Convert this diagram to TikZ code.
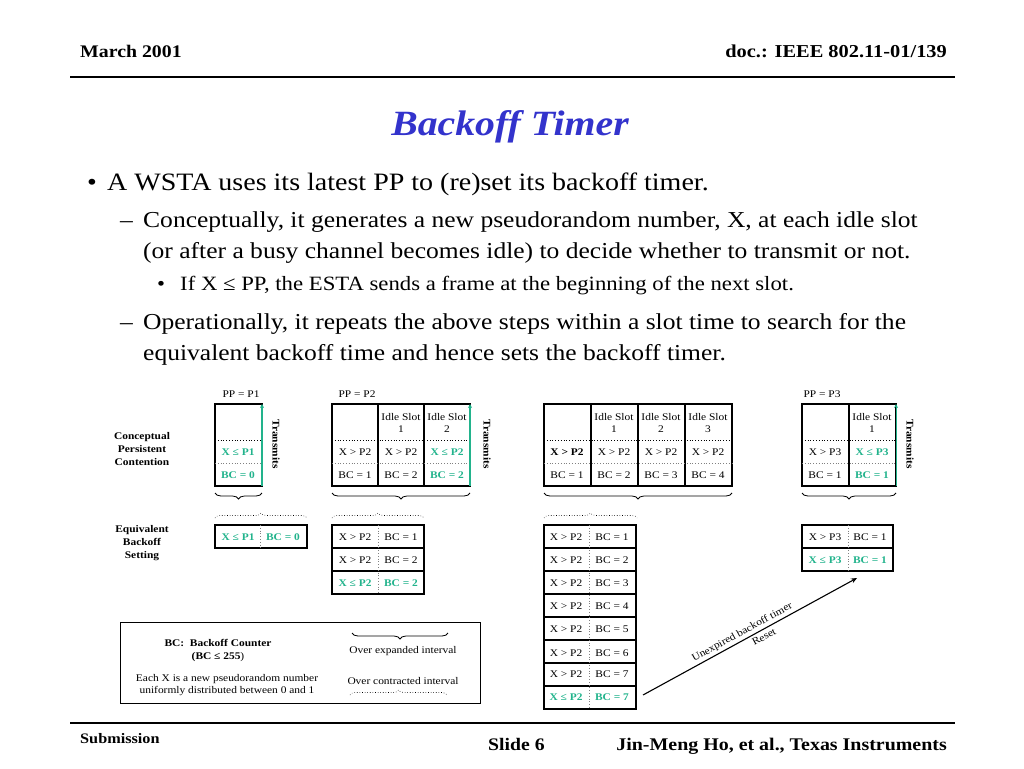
\documentclass[tikz,border=0pt]{standalone}
\usepackage{fontspec}
\setmainfont[FakeStretch=1.12]{Liberation Serif}
\usetikzlibrary{decorations.pathreplacing,arrows.meta}
\definecolor{ttl}{HTML}{3333CC}
\definecolor{mint}{HTML}{22B38C}
\newcommand{\dsz}{\fontsize{10.2}{12.6}\selectfont}
\tikzset{
  cell/.style={inner sep=0pt,font=\dsz},
  hit/.style={inner sep=0pt,text=mint,font=\dsz\bfseries},
  side/.style={inner sep=0pt,font=\dsz\bfseries,align=center},
  frame/.style={line width=1.5pt},
  colsep/.style={line width=1.1pt},
  dotsep/.style={line width=.8pt,dotted},
  upbrace/.style={decorate,decoration={brace,amplitude=5pt},line width=.6pt,dotted},
  downbrace/.style={decorate,decoration={brace,mirror,amplitude=6pt},line width=.8pt},
  goes/.style={mint,line width=1.3pt,-{Stealth[length=4pt,width=4pt]}},
  turned/.style={inner sep=0pt,font=\dsz\bfseries,rotate=-90}
}
\begin{document}
\begin{tikzpicture}[x=1pt,y=-1pt]
\useasboundingbox (0,0) rectangle (1024,768);
% header and footer
\node[anchor=base west,inner sep=0pt,font=\fontsize{17.7}{19}\selectfont\bfseries] (date) at (80,57) {March 2001};
\node[anchor=base east,inner sep=0pt,font=\fontsize{18.2}{19}\selectfont\bfseries] (doc) at (947,57) {doc.: IEEE 802.11-01/139};
\draw[line width=1.5pt] (70,77) -- (955,77);
\draw[line width=1.5pt] (70,723) -- (955,723);
\node[anchor=base west,inner sep=0pt,font=\fontsize{14.5}{15}\selectfont\bfseries] (subm) at (80,743) {Submission};
\node[anchor=base west,inner sep=0pt,font=\fontsize{17.6}{19}\selectfont\bfseries] (slide) at (488,750) {Slide 6};
\node[anchor=base east,inner sep=0pt,font=\fontsize{17.8}{19}\selectfont\bfseries] (auth) at (947,750) {Jin-Meng Ho, et al., Texas Instruments};
% title
\node[anchor=base,inner sep=0pt,text=ttl,font=\fontsize{35.5}{38}\selectfont\bfseries\itshape] (title) at (510,135) {Backoff Timer};
% bullets
\node[anchor=base west,inner sep=0pt,font=\fontsize{25}{28}\selectfont] (b1) at (87,190) {•};
\node[anchor=base west,inner sep=0pt,font=\fontsize{25}{28}\selectfont] (l1) at (107,190) {A WSTA uses its latest PP to (re)set its backoff timer.};
\node[anchor=base west,inner sep=0pt,font=\fontsize{22.8}{25}\selectfont] (b2) at (120,227) {–};
\node[anchor=base west,inner sep=0pt,font=\fontsize{22.8}{25}\selectfont] (l2) at (143,227) {Conceptually, it generates a new pseudorandom number, X, at each idle slot};
\node[anchor=base west,inner sep=0pt,font=\fontsize{22.8}{25}\selectfont] (l3) at (143,258) {(or after a busy channel becomes idle) to decide whether to transmit or not.};
\node[anchor=base west,inner sep=0pt,font=\fontsize{20.3}{22}\selectfont] (b3) at (157,290) {•};
\node[anchor=base west,inner sep=0pt,font=\fontsize{20.3}{22}\selectfont] (l4) at (180,290) {If X ≤ PP, the ESTA sends a frame at the beginning of the next slot.};
\node[anchor=base west,inner sep=0pt,font=\fontsize{22.8}{25}\selectfont] (b4) at (120,329) {–};
\node[anchor=base west,inner sep=0pt,font=\fontsize{22.8}{25}\selectfont] (l5) at (143,329) {Operationally, it repeats the above steps within a slot time to search for the};
\node[anchor=base west,inner sep=0pt,font=\fontsize{22.8}{25}\selectfont] (l6) at (143,360) {equivalent backoff time and hence sets the backoff timer.};
% row labels
\node[side] (cpc) at (142,449) {Conceptual\\Persistent\\Contention};
\node[side] (ebs) at (142,543) {Equivalent\\Backoff\\Setting};
% PP = P1
\node[cell] (pp1) at (241,394) {PP = P1};
\draw[frame] (215,404) rectangle (262,486);
\draw[dotsep] (215,440) -- (262,440);
\draw[dotsep,gray] (215,463) -- (262,463);
\node[hit] (t1x) at (238,452) {X ≤ P1};
\node[hit] (t1b) at (238,475) {BC = 0};
\draw[goes] (262,486) -- (262,404);
\node[turned] (tx1) at (276,444) {Transmits};
% PP = P2
\node[cell] (pp2) at (357,394) {PP = P2};
\draw[frame] (332,404) rectangle (470,486);
\draw[colsep] (378,404) -- (378,486);
\draw[colsep] (424,404) -- (424,486);
\draw[dotsep] (332,440) -- (470,440);
\draw[dotsep,gray] (332,463) -- (470,463);
\node[cell,align=center] (t2h1) at (401,423) {Idle Slot\\1};
\node[cell,align=center] (t2h2) at (447,423) {Idle Slot\\2};
\node[cell] (t2x0) at (355,452) {X > P2};
\node[cell] (t2x1) at (401,452) {X > P2};
\node[hit] (t2x2) at (447,452) {X ≤ P2};
\node[cell] (t2b0) at (355,475) {BC = 1};
\node[cell] (t2b1) at (401,475) {BC = 2};
\node[hit] (t2b2) at (447,475) {BC = 2};
\draw[goes] (470,486) -- (470,404);
\node[turned] (tx2) at (487,444) {Transmits};
% PP = P2, longer run
\draw[frame] (544,404) rectangle (732,486);
\draw[colsep] (591,404) -- (591,486);
\draw[colsep] (638,404) -- (638,486);
\draw[colsep] (685,404) -- (685,486);
\draw[dotsep] (544,440) -- (732,440);
\draw[dotsep,gray] (544,463) -- (732,463);
\node[cell,align=center] (t3h1) at (614,423) {Idle Slot\\1};
\node[cell,align=center] (t3h2) at (661,423) {Idle Slot\\2};
\node[cell,align=center] (t3h3) at (708,423) {Idle Slot\\3};
\node[cell,font=\dsz\bfseries] (t3x0) at (567,452) {X > P2};
\node[cell] (t3x1) at (614,452) {X > P2};
\node[cell] (t3x2) at (661,452) {X > P2};
\node[cell] (t3x3) at (708,452) {X > P2};
\node[cell] (t3b0) at (567,475) {BC = 1};
\node[cell] (t3b1) at (614,475) {BC = 2};
\node[cell] (t3b2) at (661,475) {BC = 3};
\node[cell] (t3b3) at (708,475) {BC = 4};
% PP = P3
\node[cell] (pp3) at (822,394) {PP = P3};
\draw[frame] (802,404) rectangle (896,486);
\draw[colsep] (849,404) -- (849,486);
\draw[dotsep] (802,440) -- (896,440);
\draw[dotsep,gray] (802,463) -- (896,463);
\node[cell,align=center] (t4h1) at (872,423) {Idle Slot\\1};
\node[cell] (t4x0) at (825,452) {X > P3};
\node[hit] (t4x1) at (872,452) {X ≤ P3};
\node[cell] (t4b0) at (825,475) {BC = 1};
\node[hit] (t4b1) at (872,475) {BC = 1};
\draw[goes,line width=.8pt] (896,486) -- (896,404);
\node[turned] (tx4) at (910,444) {Transmits};
% braces
\draw[downbrace] (215,493) -- (262,493);
\draw[downbrace] (332,493) -- (470,493);
\draw[downbrace] (544,493) -- (732,493);
\draw[downbrace] (802,493) -- (896,493);
\draw[upbrace] (215,518) -- (307,518);
\draw[upbrace] (332,518) -- (424,518);
\draw[upbrace] (544,518) -- (637,518);
% equivalent settings
\draw[frame] (215,525) rectangle (307,548);
\draw[dotsep,gray] (260,525) -- (260,548);
\node[hit] (e1x) at (238,537) {X ≤ P1};
\node[hit] (e1b) at (283,537) {BC = 0};
\draw[frame] (332,525) rectangle (424,594);
\draw[colsep] (332,548) -- (424,548);
\draw[colsep] (332,571) -- (424,571);
\draw[dotsep,gray] (378,525) -- (378,594);
\node[cell] (e2x1) at (355,537) {X > P2};
\node[cell] (e2b1) at (401,537) {BC = 1};
\node[cell] (e2x2) at (355,560) {X > P2};
\node[cell] (e2b2) at (401,560) {BC = 2};
\node[hit] (e2x3) at (355,583) {X ≤ P2};
\node[hit] (e2b3) at (401,583) {BC = 2};
\draw[frame] (544,525) rectangle (636,709);
\draw[colsep] (544,548) -- (636,548);
\draw[colsep] (544,571) -- (636,571);
\draw[colsep] (544,594) -- (636,594);
\draw[colsep] (544,617) -- (636,617);
\draw[colsep] (544,640) -- (636,640);
\draw[colsep] (544,663) -- (636,663);
\draw[colsep] (544,686) -- (636,686);
\draw[dotsep,gray] (589,525) -- (589,709);
\node[cell] (e3x1) at (566,537) {X > P2};
\node[cell] (e3b1) at (612,537) {BC = 1};
\node[cell] (e3x2) at (566,560) {X > P2};
\node[cell] (e3b2) at (612,560) {BC = 2};
\node[cell] (e3x3) at (566,583) {X > P2};
\node[cell] (e3b3) at (612,583) {BC = 3};
\node[cell] (e3x4) at (566,606) {X > P2};
\node[cell] (e3b4) at (612,606) {BC = 4};
\node[cell] (e3x5) at (566,629) {X > P2};
\node[cell] (e3b5) at (612,629) {BC = 5};
\node[cell] (e3x6) at (566,653) {X > P2};
\node[cell] (e3b6) at (612,653) {BC = 6};
\node[cell] (e3x7) at (566,674) {X > P2};
\node[cell] (e3b7) at (612,674) {BC = 7};
\node[hit] (e3x8) at (566,697) {X ≤ P2};
\node[hit] (e3b8) at (612,697) {BC = 7};
\draw[frame] (802,525) rectangle (893,571);
\draw[colsep] (802,548) -- (893,548);
\draw[dotsep,gray] (848,525) -- (848,571);
\node[cell] (e4x1) at (825,537) {X > P3};
\node[cell] (e4b1) at (870,537) {BC = 1};
\node[hit] (e4x2) at (825,560) {X ≤ P3};
\node[hit] (e4b2) at (870,560) {BC = 1};
% reset arrow
\coordinate (rs0) at (643,695);
\coordinate (rs1) at (857,578);
\draw[line width=1.1pt,-{Stealth[length=6pt,width=5pt]}] (rs0) -- (rs1)
  node[pos=.48,sloped,above=2pt,cell] (unexp) {Unexpired backoff timer}
  node[pos=.55,sloped,below=3pt,cell] (reset) {Reset};
% legend
\draw[line width=1pt] (120,622) rectangle (480,703);
\node[cell,font=\dsz\bfseries] (lg1) at (218,643) {BC:\ \ Backoff Counter};
\node[cell] (lg2) at (218,657) {\textbf{(BC ≤ 255})};
\node[cell,align=center] (lg3) at (227,685) {Each X is a new pseudorandom number\\uniformly distributed between 0 and 1};
\draw[downbrace] (352,633) -- (448,633);
\node[cell] (lg4) at (403,651) {Over expanded interval};
\node[cell] (lg5) at (403,681) {Over contracted interval};
\draw[upbrace] (350,695) -- (447,695);
\end{tikzpicture}
\end{document}
